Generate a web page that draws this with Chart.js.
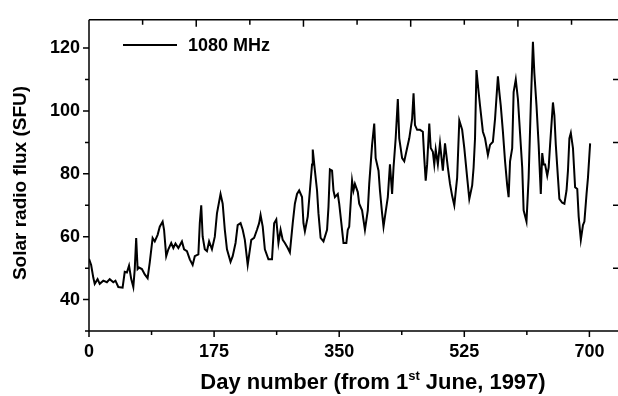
<!DOCTYPE html>
<html>
<head>
<meta charset="utf-8">
<script src="https://cdn.jsdelivr.net/npm/chart.js@4.4.1/dist/chart.umd.min.js"></script>
<style>
  html, body { margin: 0; padding: 0; background: #fff; }
  canvas { display: block; }
</style>
</head>
<body>
<canvas id="flux-chart" width="618" height="396"></canvas>
<script>
const FONT = '"Liberation Sans", Arial, Helvetica, sans-serif';

const seriesLabel = "1080 MHz";

// day number from 1 June 1997
const days = [
  0, 3, 6, 8, 12, 15, 20, 25, 29, 34,
  37, 41, 47, 50, 53, 56, 59, 62, 64, 66,
  68, 70, 74, 78, 82, 85, 89, 92, 96, 99,
  103, 105, 108, 111, 115, 118, 121, 125, 130, 133,
  137, 141, 145, 148, 153, 155, 157, 159, 162, 165,
  168, 172, 176, 179, 184, 187, 190, 193, 198, 201,
  205, 208, 212, 215, 218, 222, 227, 231, 235, 238,
  240, 243, 246, 251, 256, 259, 262, 265, 268, 271,
  274, 278, 281, 285, 288, 291, 294, 298, 300, 302,
  306, 309, 312, 313, 316, 319, 321, 324, 328, 333,
  335, 337, 340, 342, 344, 348, 350, 353, 356, 360,
  362, 364, 368, 370, 372, 376, 378, 382, 386, 390,
  392, 396, 399, 401, 405, 407, 410, 412, 414, 418,
  421, 424, 426, 429, 432, 434, 438, 441, 445, 448,
  452, 454, 456, 459, 463, 467, 469, 471, 473, 476,
  478, 481, 483, 485, 488, 491, 495, 498, 502, 505,
  508, 511, 515, 518, 522, 525, 529, 532, 536, 538,
  540, 542, 545, 547, 551, 554, 558, 561, 565, 568,
  572, 574, 576, 579, 582, 585, 587, 589, 592, 594,
  597, 600, 602, 606, 608, 612, 615, 618, 621, 623,
  626, 629, 632, 634, 636, 638, 641, 643, 645, 649,
  651, 653, 656, 658, 662, 665, 668, 670, 672, 674,
  677, 680, 683, 685, 688, 691, 693, 696, 698, 701,
];

// solar radio flux in SFU
const flux = [
  53, 51, 47, 45, 46.5, 45, 46, 45.5, 46.5, 45.5,
  46, 44, 43.8, 48.8, 48.6, 50.8, 46.6, 44, 49.7, 59.6,
  49.7, 50.2, 49.7, 48, 46.8, 51.8, 59.6, 58.5, 60.6, 63.2,
  64.8, 62.2, 53.8, 56, 58, 56.4, 57.8, 56.4, 58.5, 56,
  55.4, 52.8, 51, 53.8, 54.4, 64.3, 70, 60, 56, 55.4,
  58.5, 56, 60, 67.4, 73.6, 70.5, 62.2, 56, 52, 53.8,
  58, 63.7, 64.3, 62.2, 59, 51, 59, 59.6, 62.2, 64.3,
  66.9, 63.2, 56, 52.8, 52.8, 64.3, 65.5, 58, 62.2, 59,
  58, 56.4, 55, 64.3, 70.5, 73.6, 74.7, 72.6, 64.3, 61.7,
  66.4, 74.7, 83, 87.7, 81, 74.7, 67.4, 59.6, 58.5, 62.2,
  69.5, 81.4, 81, 74.7, 72.6, 73.6, 70.5, 64.3, 58, 58,
  62.2, 63.2, 77.8, 74.7, 76.8, 74.2, 70.5, 68.4, 62.2, 68.4,
  76.8, 89.2, 96, 85, 81, 74.7, 67.4, 63.2, 66.4, 72.6,
  83, 73.6, 82, 91.3, 103.8, 91.3, 85, 84, 88.2, 91.3,
  97.5, 105.6, 95.5, 94, 94, 93.4, 85, 77.8, 83, 96,
  88.2, 87, 83, 87.7, 83, 89.7, 81, 89.7, 82, 76.8,
  73, 70, 78.8, 97, 94, 88.2, 78.8, 72, 76.3, 82,
  91.3, 113, 106, 101.7, 93.4, 91.3, 86, 89.2, 90.2, 97.5,
  111, 106, 101.7, 93.4, 84, 76.3, 72.6, 84, 88.2, 106,
  110, 103.8, 96.5, 82, 68.4, 64.8, 78.8, 101.7, 122, 112,
  101.7, 89.2, 73.6, 86.6, 83, 83, 79.4, 82, 89.2, 102.7,
  98.6, 89.2, 78.8, 72, 70.8, 70.5, 74.7, 81, 91.3, 93,
  88.2, 75.7, 75.2, 66.4, 59, 63.7, 64.8, 73.6, 78.8, 89.7,
];

const xLabelTicks = [0, 175, 350, 525, 700];
const xMinorTicks = [87.5, 262.5, 437.5, 612.5];
const yLabelTicks = [40, 60, 80, 100, 120];
const yMinorTicks = [50, 70, 90, 110];
const topMajorTicks = [150, 300, 450, 600];
const topMinorTicks = [75, 225, 375, 525, 675];
const rightTicks = [50, 70, 90, 110];

const points = days.map((day, i) => ({ x: day, y: flux[i] }));

// axes box, tick marks, legend and axis titles
const frameAndText = {
  id: "frameAndText",
  afterDraw(chart) {
    const { ctx, chartArea: area } = chart;
    const xs = chart.scales.x;
    const ys = chart.scales.y;
    ctx.save();
    ctx.strokeStyle = "#000";
    ctx.lineWidth = 1.5;
    ctx.beginPath();
    ctx.moveTo(area.left, area.top);
    ctx.lineTo(area.left, area.bottom);
    ctx.moveTo(area.left - 4, area.bottom);
    ctx.lineTo(area.right, area.bottom);
    ctx.moveTo(area.left, area.top);
    ctx.lineTo(area.right, area.top);

    const tick = (x1, y1, x2, y2) => {
      ctx.moveTo(x1, y1);
      ctx.lineTo(x2, y2);
    };
    xLabelTicks.forEach((v) => {
      const px = xs.getPixelForValue(v);
      tick(px, area.bottom, px, area.bottom + 6);
    });
    xMinorTicks.forEach((v) => {
      const px = xs.getPixelForValue(v);
      tick(px, area.bottom, px, area.bottom + 4);
    });
    yLabelTicks.forEach((v) => {
      const py = ys.getPixelForValue(v);
      tick(area.left - 6, py, area.left, py);
    });
    yMinorTicks.forEach((v) => {
      const py = ys.getPixelForValue(v);
      tick(area.left - 4, py, area.left, py);
    });
    topMajorTicks.forEach((v) => {
      const px = xs.getPixelForValue(v);
      tick(px, area.top, px, area.top + 7);
    });
    topMinorTicks.forEach((v) => {
      const px = xs.getPixelForValue(v);
      tick(px, area.top, px, area.top + 5);
    });
    rightTicks.forEach((v) => {
      const py = ys.getPixelForValue(v);
      tick(area.right - 5, py, area.right, py);
    });
    ctx.stroke();

    // legend
    ctx.lineWidth = 2;
    ctx.beginPath();
    ctx.moveTo(123, 45);
    ctx.lineTo(177, 45);
    ctx.stroke();
    ctx.fillStyle = "#000";
    ctx.font = `bold 18px ${FONT}`;
    ctx.textBaseline = "middle";
    ctx.textAlign = "left";
    ctx.fillText(seriesLabel, 188, 46);

    // x title with superscript
    const main = `bold 22px ${FONT}`;
    const sup = `bold 13px ${FONT}`;
    const parts = [
      { text: "Day number (from 1", font: main, dy: 0 },
      { text: "st", font: sup, dy: -9 },
      { text: " June, 1997)", font: main, dy: 0 },
    ];
    let total = 0;
    parts.forEach((p) => {
      ctx.font = p.font;
      p.w = ctx.measureText(p.text).width;
      total += p.w;
    });
    let cx = 373 - total / 2;
    ctx.textBaseline = "alphabetic";
    parts.forEach((p) => {
      ctx.font = p.font;
      ctx.fillText(p.text, cx, 389 + p.dy);
      cx += p.w;
    });

    // y title
    ctx.translate(21, 183);
    ctx.rotate(-Math.PI / 2);
    ctx.font = `bold 19px ${FONT}`;
    ctx.textAlign = "center";
    ctx.textBaseline = "middle";
    ctx.fillText("Solar radio flux (SFU)", 0, 0);
    ctx.restore();
  },
};

const ctx = document.getElementById("flux-chart").getContext("2d");
new Chart(ctx, {
  type: "line",
  data: {
    datasets: [
      {
        label: seriesLabel,
        data: points,
        borderColor: "#000",
        borderWidth: 2,
        pointRadius: 0,
        tension: 0,
        fill: false,
      },
    ],
  },
  options: {
    responsive: false,
    animation: false,
    devicePixelRatio: 1,
    layout: { padding: { top: 12, right: 0, bottom: 0, left: 0 } },
    plugins: { legend: { display: false }, tooltip: { enabled: false } },
    scales: {
      x: {
        type: "linear",
        min: 0,
        max: 740,
        afterBuildTicks: (scale) => {
          scale.ticks = xLabelTicks.map((value) => ({ value }));
        },
        afterFit: (scale) => {
          scale.height = 65;
        },
        grid: { display: false, drawTicks: false },
        border: { display: false },
        ticks: {
          color: "#000",
          padding: 10,
          maxRotation: 0,
          autoSkip: false,
          font: { family: FONT, size: 18, weight: "bold" },
        },
      },
      y: {
        min: 30,
        max: 129,
        afterBuildTicks: (scale) => {
          scale.ticks = yLabelTicks.map((value) => ({ value }));
        },
        afterFit: (scale) => {
          scale.width = 89;
        },
        grid: { display: false, drawTicks: false },
        border: { display: false },
        ticks: {
          color: "#000",
          padding: 9,
          font: { family: FONT, size: 18, weight: "bold" },
        },
      },
    },
  },
  plugins: [frameAndText],
});
</script>
</body>
</html>
